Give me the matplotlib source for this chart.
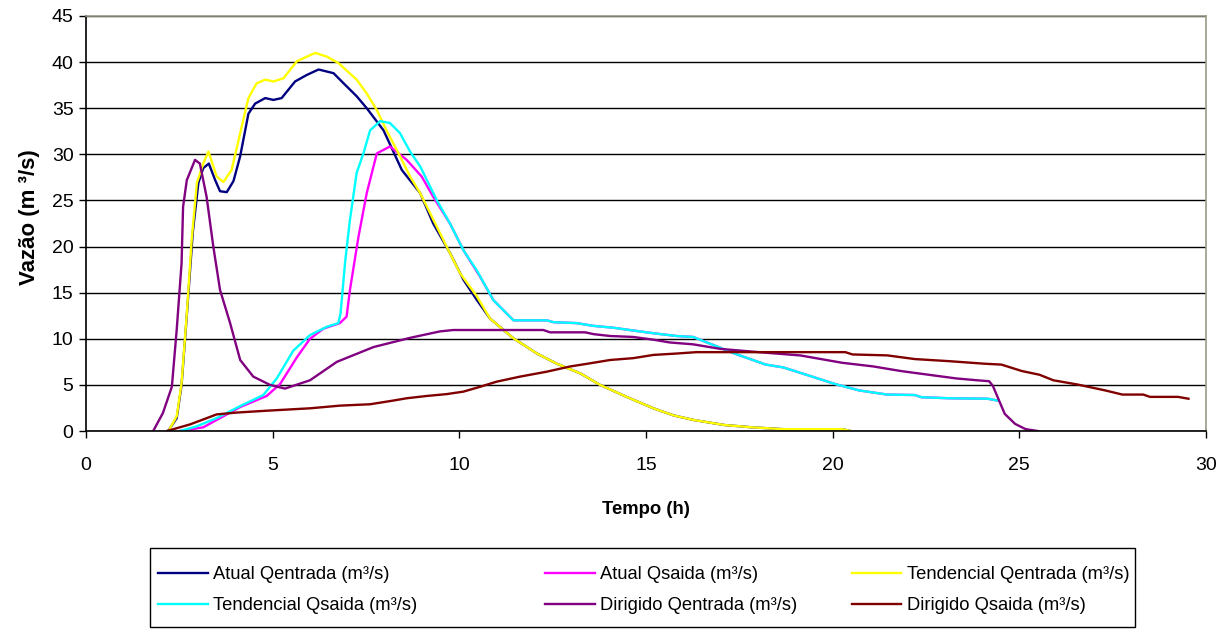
import matplotlib
matplotlib.use("Agg")
import matplotlib.pyplot as plt
from matplotlib.patches import Rectangle

plt.rcParams["font.family"] = ["Liberation Sans", "DejaVu Sans"]

# Atual Qentrada
atual_in_t = [2.2, 2.43, 2.56, 2.7, 2.86, 3.01, 3.14, 3.29, 3.46, 3.59, 3.77, 3.95, 4.13, 4.35,
              4.53, 4.8, 5.02, 5.24, 5.6, 5.91, 6.23, 6.63, 6.9, 7.25, 7.52, 7.97, 8.46, 8.95,
              9.3, 9.75, 10.11, 10.47, 10.82, 11.45, 12.08, 12.61, 13.24, 13.77, 14.48, 15.2,
              15.73, 16.27, 17.1, 17.84, 18.67, 20.25, 20.48]
atual_in_q = [0, 1.4, 5.0, 12.5, 21.5, 26.9, 28.5, 29.0, 27.2, 26.0, 25.9, 27.1, 29.8, 34.4,
              35.5, 36.1, 35.9, 36.1, 37.9, 38.6, 39.2, 38.8, 37.7, 36.3, 35.0, 32.6, 28.3, 25.8,
              22.5, 19.3, 16.4, 14.2, 12.2, 10.05, 8.4, 7.3, 6.25, 5.0, 3.7, 2.46,
              1.7, 1.2, 0.65, 0.4, 0.2, 0.2, 0]

# Atual Qsaida
atual_out_t = [2.52, 3.14, 4.13, 4.84, 5.2, 5.65, 6.0, 6.36, 6.8, 6.98, 7.07, 7.3, 7.52, 7.79,
               8.14, 8.59, 8.99, 9.3, 9.75, 10.11, 10.56, 10.91, 11.45, 12.34, 12.52, 13.14,
               13.59, 14.12, 14.65, 15.2, 15.82, 16.26, 16.82, 17.37, 18.21, 18.67, 19.14,
               20.06, 20.71, 21.46, 22.2, 22.38, 23.13, 24.15, 24.42]
atual_out_q = [0, 0.4, 2.6, 3.8, 5.1, 8.0, 10.0, 11.1, 11.7, 12.4, 15.3, 21.1, 25.8, 30.1,
               30.85, 29.4, 27.6, 25.4, 22.5, 19.6, 16.7, 14.2, 12.0, 12.0, 11.8, 11.7,
               11.4, 11.2, 10.9, 10.6, 10.3, 10.2, 9.3, 8.4, 7.2, 6.9, 6.3,
               5.1, 4.4, 3.95, 3.9, 3.66, 3.55, 3.5, 3.3]

# Tendencial Qentrada
tend_in_t = [2.21, 2.43, 2.56, 2.7, 2.83, 2.97, 3.14, 3.28, 3.5, 3.68, 3.9, 4.13, 4.35, 4.57,
             4.8, 5.02, 5.29, 5.65, 6.14, 6.45, 6.76, 7.25, 7.52, 7.79, 8.05, 8.41, 8.68, 8.95,
             9.66, 10.02, 10.47, 10.82, 11.45, 12.08, 12.61, 13.24, 13.77, 14.48, 15.2, 15.73,
             16.27, 17.1, 17.84, 18.67, 20.25, 20.48]
tend_in_q = [0, 1.6, 5.2, 12.7, 20.7, 26.9, 29.0, 30.3, 27.6, 27.0, 28.3, 32.3, 36.1, 37.7,
             38.1, 37.9, 38.25, 40.1, 41.0, 40.6, 39.9, 38.1, 36.6, 34.8, 32.6, 29.8, 27.6, 25.8,
             20.0, 17.1, 14.6, 12.2, 10.05, 8.4, 7.3, 6.25, 5.0, 3.7, 2.46, 1.7,
             1.2, 0.65, 0.4, 0.2, 0.2, 0]

# Tendencial Qsaida
tend_out_t = [2.52, 2.96, 3.5, 4.13, 4.75, 5.11, 5.55, 6.0, 6.45, 6.76, 6.82, 6.94, 7.07, 7.25,
              7.43, 7.61, 7.88, 8.14, 8.41, 8.68, 8.95, 9.4, 9.75, 10.11, 10.47, 10.91, 11.45,
              12.34, 12.52, 13.14, 13.59, 14.12, 14.65, 15.2, 15.82, 16.26, 16.82, 17.37, 18.21,
              18.67, 19.14, 20.06, 20.71, 21.46, 22.2, 22.38, 23.13, 24.15, 24.42]
tend_out_q = [0, 0.5, 1.4, 2.7, 3.9, 5.7, 8.7, 10.4, 11.3, 11.7, 12.8, 18.3, 22.9, 28.0,
              30.1, 32.6, 33.6, 33.4, 32.3, 30.3, 28.7, 25.0, 22.5, 19.6, 17.4, 14.2, 12.0,
              12.0, 11.8, 11.7, 11.4, 11.2, 10.9, 10.6, 10.3, 10.2, 9.3, 8.4, 7.2,
              6.9, 6.3, 5.1, 4.4, 3.95, 3.9, 3.66, 3.55, 3.5, 3.3]

# Dirigido Qentrada
dir_in_t = [1.8, 2.06, 2.3, 2.43, 2.56, 2.6, 2.7, 2.92, 3.05, 3.23, 3.41, 3.59, 3.86, 4.13,
            4.48, 4.93, 5.33, 6.0, 6.72, 7.7, 8.68, 9.48, 9.84, 12.25, 12.43, 13.37, 13.6,
            14.04, 14.65, 15.2, 15.64, 16.26, 17.0, 18.02, 19.14, 20.25, 21.09, 21.83, 22.57,
            23.31, 23.87, 24.19, 24.29, 24.61, 24.89, 25.17, 25.49]
dir_in_q = [0, 1.95, 4.8, 11.0, 18.2, 24.3, 27.2, 29.4, 29.0, 25.4, 20.0, 15.3, 11.7, 7.7,
            5.9, 5.0, 4.6, 5.5, 7.5, 9.1, 10.1, 10.8, 10.95, 10.95, 10.7, 10.7, 10.5,
            10.3, 10.2, 9.9, 9.6, 9.4, 8.9, 8.55, 8.19, 7.4, 7.0, 6.5, 6.1,
            5.7, 5.5, 5.4, 4.9, 1.85, 0.76, 0.2, 0]

# Dirigido Qsaida
dir_out_t = [2.17, 2.79, 3.5, 4.04, 4.84, 6.0, 6.8, 7.61, 8.23, 8.59, 9.13, 9.66, 10.11, 10.56,
             11.0, 11.63, 12.34, 12.97, 13.41, 14.04, 14.66, 15.2, 15.82, 16.35, 20.34, 20.53,
             21.46, 22.2, 23.13, 24.05, 24.52, 25.07, 25.54, 25.91, 26.56, 27.3, 27.76, 28.32,
             28.5, 29.25, 29.53]
dir_out_q = [0, 0.72, 1.8, 2.0, 2.2, 2.46, 2.75, 2.9, 3.3, 3.55, 3.8, 4.0, 4.27, 4.8,
             5.35, 5.9, 6.43, 7.0, 7.28, 7.7, 7.9, 8.25, 8.4, 8.55, 8.55, 8.3,
             8.2, 7.8, 7.57, 7.3, 7.2, 6.5, 6.1, 5.5, 5.04, 4.4, 3.95, 3.95,
             3.7, 3.7, 3.5]

series = [
    (atual_in_t, atual_in_q, "#000080", "Atual Qentrada (m³/s)"),
    (atual_out_t, atual_out_q, "#FF00FF", "Atual Qsaida (m³/s)"),
    (tend_in_t, tend_in_q, "#FFFF00", "Tendencial Qentrada (m³/s)"),
    (tend_out_t, tend_out_q, "#00FFFF", "Tendencial Qsaida (m³/s)"),
    (dir_in_t, dir_in_q, "#800080", "Dirigido Qentrada (m³/s)"),
    (dir_out_t, dir_out_q, "#800000", "Dirigido Qsaida (m³/s)"),
]

W, H = 1230, 630
fig = plt.figure(figsize=(W / 100, H / 100), dpi=100)
ax = fig.add_axes([86 / W, 1 - 431 / H, 1120 / W, 415 / H])

lines = []
for t, q, c, lab in series:
    ln, = ax.plot(t, q, color=c, lw=1.7, label=lab)
    lines.append(ln)

ax.set_xlim(0, 30)
ax.set_ylim(0, 45)
ax.set_xticks(range(0, 31, 5))
ax.set_yticks(range(0, 46, 5))
ax.yaxis.grid(True, color="black", lw=1)
ax.set_axisbelow(True)
ax.tick_params(direction="out", length=5, width=1, labelsize=14, color="black")
ax.tick_params(axis="x", pad=14)
ax.tick_params(axis="y", pad=4)
for s in ("left", "bottom"):
    ax.spines[s].set_color("black")
    ax.spines[s].set_linewidth(1.2)
for s in ("top", "right"):
    ax.spines[s].set_color("#9a9a86")
    ax.spines[s].set_linewidth(1.2)

ax.set_xlabel("Tempo (h)", fontsize=13.3, fontweight="bold")
ax.xaxis.set_label_coords(0.5, -78 / 415)
ax.xaxis.label.set_va("center")
ax.set_ylabel("Vazão (m ³/s)", fontsize=16, fontweight="bold")
ax.yaxis.set_label_coords(-56 / 1120, 0.515)
ax.yaxis.label.set_va("center")

# legend: three columns of two rows, framed box
col_x = [158, 545, 852]
for i, x in enumerate(col_x):
    fig.legend(handles=[lines[i], lines[i + 3]], loc="upper left",
               bbox_to_anchor=(x / W, 1 - 566 / H), frameon=False, fontsize=13.2,
               handlelength=2.7, handletextpad=0.3, borderpad=0, borderaxespad=0,
               labelspacing=0.78)
fig.add_artist(Rectangle((150 / W, 1 - 627 / H), 985 / W, 79 / H, transform=fig.transFigure,
                         fill=False, edgecolor="black", lw=1.0))

fig.savefig("out.png", dpi=100)
